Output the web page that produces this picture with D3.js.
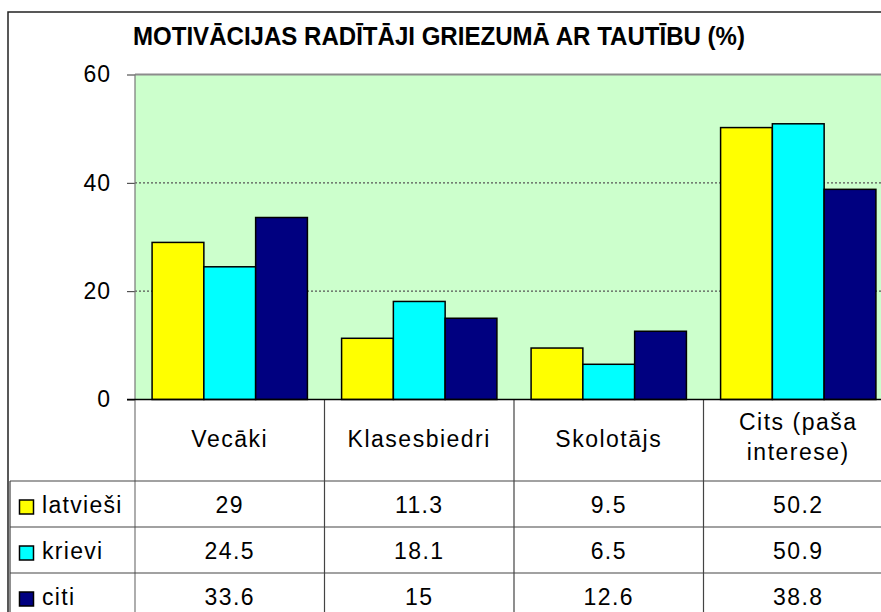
<!DOCTYPE html>
<html>
<head>
<meta charset="utf-8">
<script src="https://cdn.jsdelivr.net/npm/d3@7"></script>
<style>
  body { margin: 0; background: #fff; }
  text { font-family: Arial, "Liberation Sans", sans-serif; fill: #000; }
</style>
</head>
<body>
<div id="chart"></div>
<script>
var title = "MOTIVĀCIJAS RADĪTĀJI GRIEZUMĀ AR TAUTĪBU (%)";
var categories = ["Vecāki", "Klasesbiedri", "Skolotājs", "Cits (paša interese)"];
var categoryLines = [["Vecāki"], ["Klasesbiedri"], ["Skolotājs"], ["Cits (paša", "interese)"]];
var seriesNames = ["latvieši", "krievi", "citi"];
var latviesi = [29, 11.3, 9.5, 50.2];
var krievi = [24.5, 18.1, 6.5, 50.9];
var citi = [33.6, 15, 12.6, 38.8];
var yTicks = [0, 20, 40, 60];
var colors = ["#ffff00", "#00ffff", "#000080"];

var seriesValues = [latviesi, krievi, citi];
var width = 881,
    height = 612;

var plotLeft = 135,
    plotRight = 893,
    plotTop = 74.5,
    plotBottom = 399.5;
var headerBottom = 481,
    rowHeight = 46;

var svg = d3.select("#chart")
  .append("svg")
    .attr("width", width)
    .attr("height", height);

var x = d3.scaleBand()
  .domain(categories)
  .range([plotLeft, plotRight]);

var xSeries = d3.scaleBand()
  .domain(seriesNames)
  .range([0, x.bandwidth()])
  .paddingOuter(0.33);

var y = d3.scaleLinear()
  .domain([0, 60])
  .range([plotBottom, plotTop]);

// outer border
svg.append("path")
  .attr("d", "M8," + height + "V12H" + width)
  .attr("fill", "none")
  .attr("stroke", "#222")
  .attr("stroke-width", 1.5);

svg.append("text")
  .attr("x", 133)
  .attr("y", 45)
  .attr("font-size", "25px")
  .attr("font-weight", "bold")
  .attr("textLength", 612)
  .attr("lengthAdjust", "spacingAndGlyphs")
  .text(title);

// plot background
svg.append("rect")
  .attr("x", plotLeft)
  .attr("y", plotTop)
  .attr("width", plotRight - plotLeft)
  .attr("height", plotBottom - plotTop)
  .attr("fill", "#ccffcc");

svg.append("line")
  .attr("x1", plotLeft).attr("x2", plotRight)
  .attr("y1", plotTop).attr("y2", plotTop)
  .attr("stroke", "#8c8c8c")
  .attr("stroke-width", 2);

// gridlines
svg.append("g")
  .selectAll("line")
  .data(yTicks.filter(function(d) { return d > 0 && d < 60; }))
  .enter()
    .append("line")
    .attr("x1", plotLeft).attr("x2", plotRight)
    .attr("y1", function(d) { return y(d); })
    .attr("y2", function(d) { return y(d); })
    .attr("stroke", "#555")
    .attr("stroke-width", 1.2)
    .attr("stroke-dasharray", "2,2");

// bars
var groups = svg.append("g")
  .selectAll("g")
  .data(seriesNames)
  .enter()
    .append("g")
    .attr("fill", function(d, i) { return colors[i]; });

groups.selectAll("rect")
  .data(function(name, i) {
    return seriesValues[i].map(function(v, j) {
      return { name: name, category: categories[j], value: v };
    });
  })
  .enter()
    .append("rect")
    .attr("x", function(d) { return x(d.category) + xSeries(d.name); })
    .attr("y", function(d) { return y(d.value); })
    .attr("width", xSeries.bandwidth())
    .attr("height", function(d) { return y(0) - y(d.value); })
    .attr("stroke", "#000")
    .attr("stroke-width", 1.5);

// y axis
var yAxis = d3.axisLeft(y)
  .tickValues(yTicks)
  .tickSize(8)
  .tickPadding(16);

var yAxisG = svg.append("g")
  .attr("transform", "translate(" + plotLeft + ",0)")
  .call(yAxis);

yAxisG.select(".domain").remove();
yAxisG.selectAll(".tick line").attr("stroke", "#333");
yAxisG.selectAll(".tick text")
  .attr("font-size", "23px")
  .attr("letter-spacing", "1px")
  .attr("font-family", "Arial, 'Liberation Sans', sans-serif");

// table lines
var tableLines = svg.append("g")
  .attr("stroke", "#444")
  .attr("stroke-width", 1.2);

tableLines.append("line")
  .attr("x1", plotLeft).attr("x2", plotLeft)
  .attr("y1", plotTop).attr("y2", height)
  .attr("stroke", "#777");

tableLines.selectAll("line.col")
  .data(categories.slice(1))
  .enter()
    .append("line")
    .attr("class", "col")
    .attr("x1", function(d) { return x(d); })
    .attr("x2", function(d) { return x(d); })
    .attr("y1", plotBottom)
    .attr("y2", height);

tableLines.selectAll("line.row")
  .data(seriesNames)
  .enter()
    .append("line")
    .attr("class", "row")
    .attr("x1", 10).attr("x2", width)
    .attr("y1", function(d, i) { return headerBottom + i * rowHeight; })
    .attr("y2", function(d, i) { return headerBottom + i * rowHeight; });

tableLines.append("line")
  .attr("x1", 10).attr("x2", 10)
  .attr("y1", headerBottom).attr("y2", height);

// zero line
svg.append("line")
  .attr("x1", plotLeft - 8).attr("x2", plotRight)
  .attr("y1", y(0)).attr("y2", y(0))
  .attr("stroke", "#000")
  .attr("stroke-width", 1.5);

// header labels
var header = svg.append("g")
  .attr("font-size", "23px")
  .attr("text-anchor", "middle");

header.selectAll("text")
  .data(categories)
  .enter()
    .append("text")
    .attr("x", function(d) { return x(d) + x.bandwidth() / 2; })
    .attr("y", function(d, i) { return categoryLines[i].length > 1 ? 430 : 447; })
    .attr("letter-spacing", "1.5px")
    .each(function(d, i) {
      var t = d3.select(this);
      categoryLines[i].forEach(function(line, k) {
        t.append("tspan")
          .attr("x", x(d) + x.bandwidth() / 2)
          .attr("dy", k === 0 ? 0 : 30)
          .text(line);
      });
    });

// data rows
var rows = svg.append("g")
  .selectAll("g")
  .data(seriesNames)
  .enter()
    .append("g")
    .attr("transform", function(d, i) {
      return "translate(0," + (headerBottom + i * rowHeight) + ")";
    });

rows.append("rect")
  .attr("x", 19.5)
  .attr("y", 19)
  .attr("width", 14)
  .attr("height", 14)
  .attr("fill", function(d, i) { return colors[i]; })
  .attr("stroke", "#000")
  .attr("stroke-width", 1.5);

rows.append("text")
  .attr("x", 42)
  .attr("y", 32)
  .attr("font-size", "23px")
  .attr("letter-spacing", "1.3px")
  .text(function(d) { return d; });

rows.selectAll("text.value")
  .data(function(d, i) { return seriesValues[i]; })
  .enter()
    .append("text")
    .attr("class", "value")
    .attr("x", function(d, j) { return x(categories[j]) + x.bandwidth() / 2; })
    .attr("y", 32)
    .attr("font-size", "23px")
    .attr("letter-spacing", "1.4px")
    .attr("text-anchor", "middle")
    .text(function(d) { return String(d); });
</script>
</body>
</html>
